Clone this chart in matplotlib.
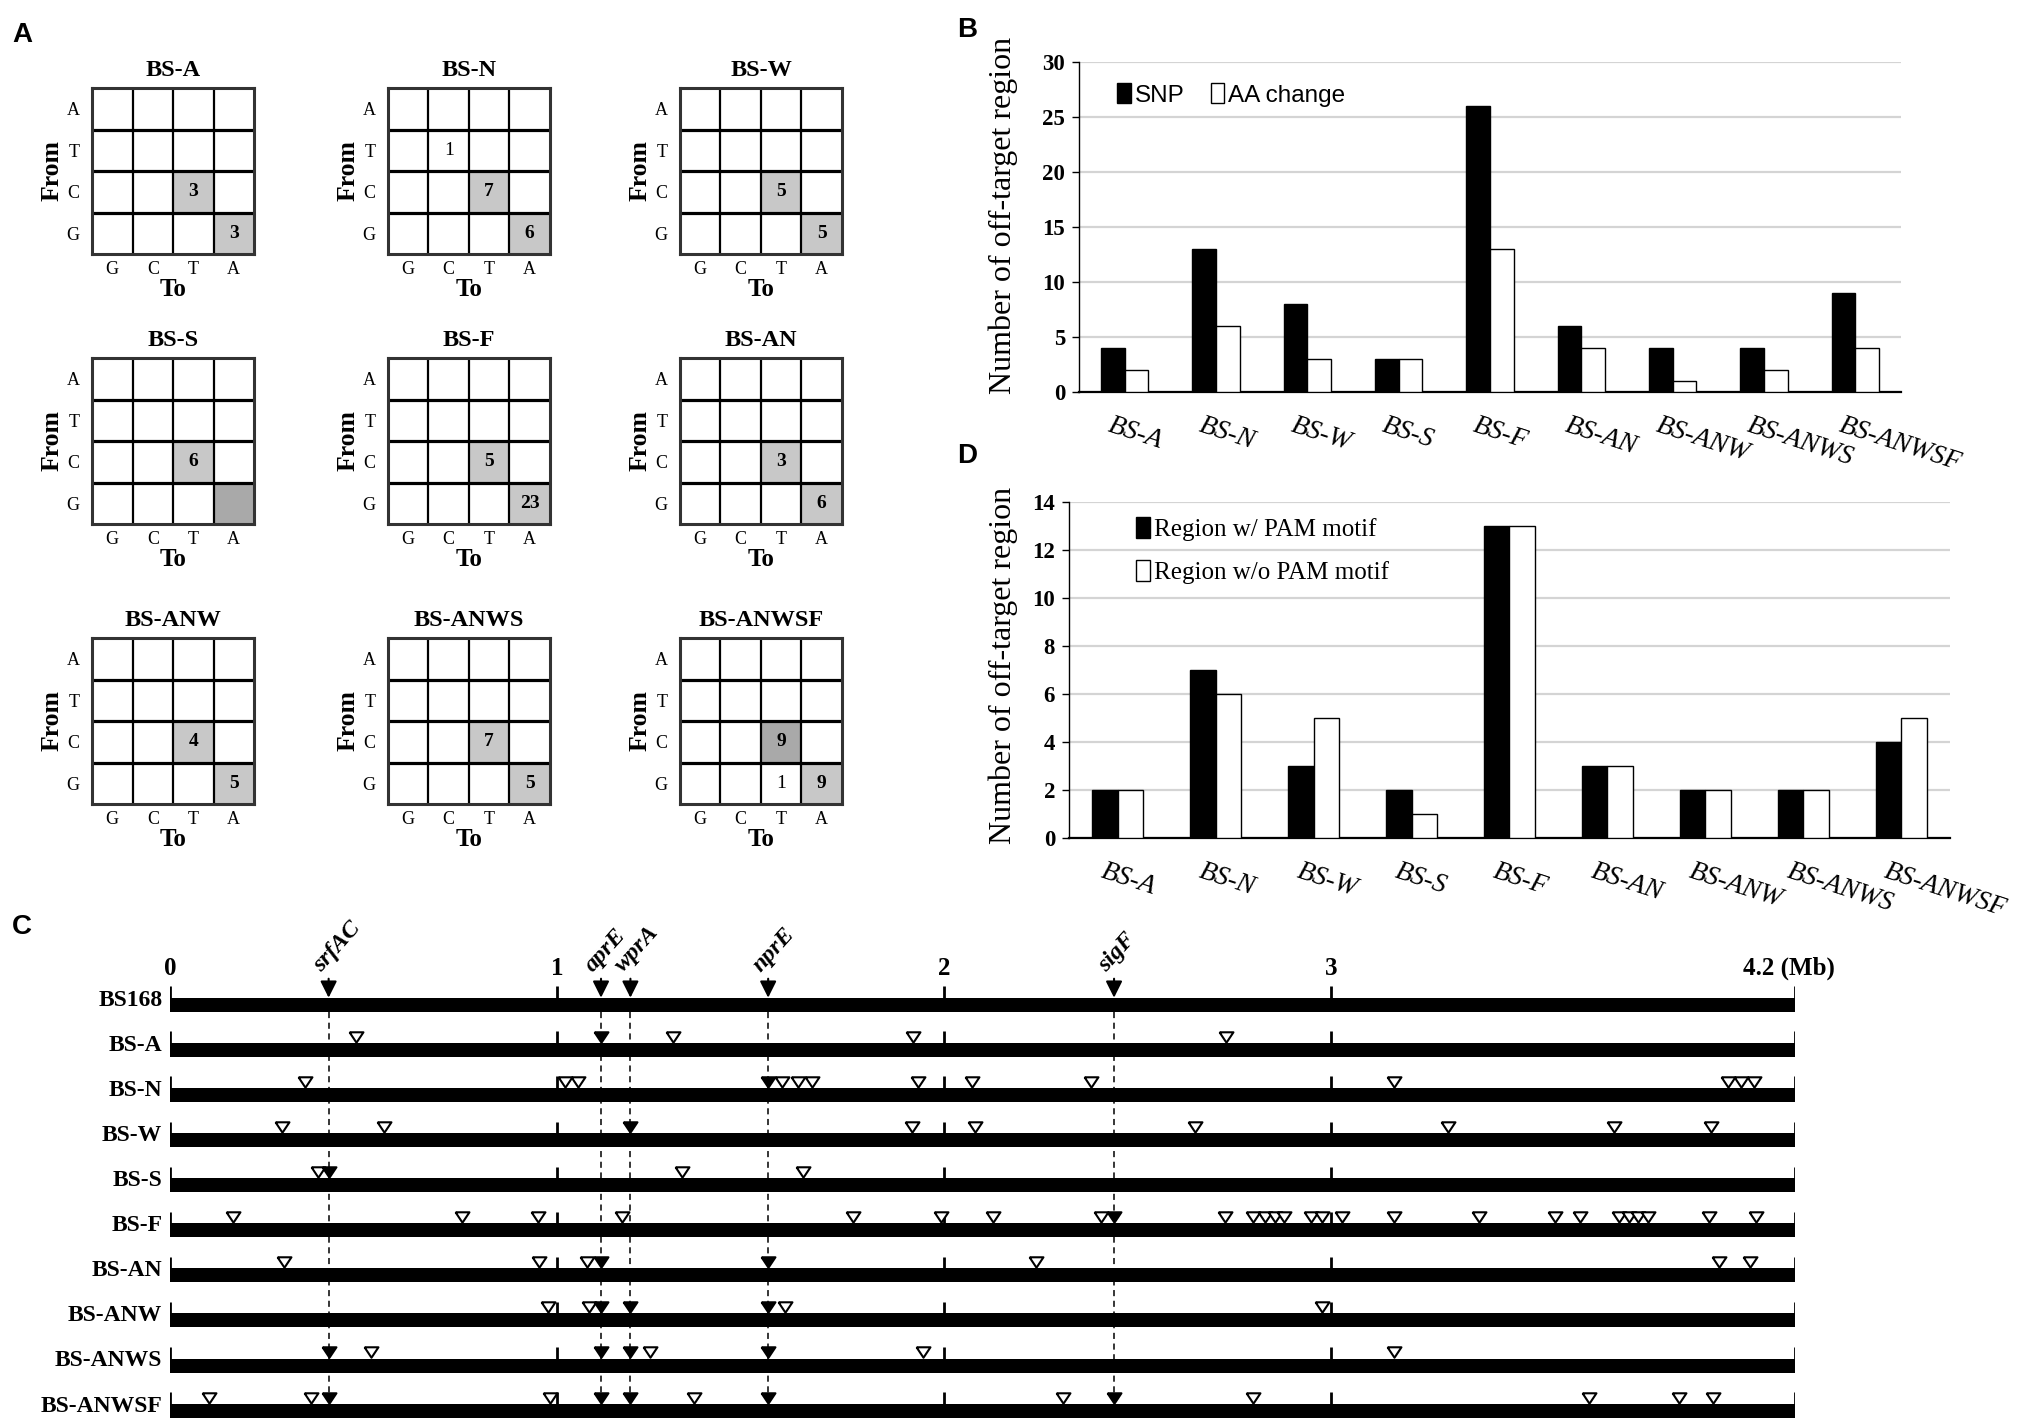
import matplotlib
matplotlib.use('Agg')
import matplotlib.pyplot as plt
from matplotlib.colors import ListedColormap
from matplotlib.patches import Patch
from matplotlib.transforms import ScaledTranslation
import numpy as np

plt.rcParams['font.family'] = ['Liberation Serif', 'DejaVu Serif']

W, H = 2033, 1421  # output size in px (dpi 100)

# ---------------- data ----------------
strains = ['BS-A', 'BS-N', 'BS-W', 'BS-S', 'BS-F', 'BS-AN', 'BS-ANW', 'BS-ANWS', 'BS-ANWSF']
from_bases = ['A', 'T', 'C', 'G']
to_bases = ['G', 'C', 'T', 'A']

# panel A: substitution counts, rows = From (A,T,C,G), cols = To (G,C,T,A); 0 = no number
sub_counts = [
    [[0, 0, 0, 0], [0, 0, 0, 0], [0, 0, 3, 0], [0, 0, 0, 3]],    # BS-A
    [[0, 0, 0, 0], [0, 1, 0, 0], [0, 0, 7, 0], [0, 0, 0, 6]],    # BS-N
    [[0, 0, 0, 0], [0, 0, 0, 0], [0, 0, 5, 0], [0, 0, 0, 5]],    # BS-W
    [[0, 0, 0, 0], [0, 0, 0, 0], [0, 0, 6, 0], [0, 0, 0, 0]],    # BS-S
    [[0, 0, 0, 0], [0, 0, 0, 0], [0, 0, 5, 0], [0, 0, 0, 23]],   # BS-F
    [[0, 0, 0, 0], [0, 0, 0, 0], [0, 0, 3, 0], [0, 0, 0, 6]],    # BS-AN
    [[0, 0, 0, 0], [0, 0, 0, 0], [0, 0, 4, 0], [0, 0, 0, 5]],    # BS-ANW
    [[0, 0, 0, 0], [0, 0, 0, 0], [0, 0, 7, 0], [0, 0, 0, 5]],    # BS-ANWS
    [[0, 0, 0, 0], [0, 0, 0, 0], [0, 0, 9, 0], [0, 0, 1, 9]],    # BS-ANWSF
]
# cell shading: 0 white, 1 light grey, 2 darker grey
sub_shade = [
    [[0, 0, 0, 0], [0, 0, 0, 0], [0, 0, 1, 0], [0, 0, 0, 1]],
    [[0, 0, 0, 0], [0, 0, 0, 0], [0, 0, 1, 0], [0, 0, 0, 1]],
    [[0, 0, 0, 0], [0, 0, 0, 0], [0, 0, 1, 0], [0, 0, 0, 1]],
    [[0, 0, 0, 0], [0, 0, 0, 0], [0, 0, 1, 0], [0, 0, 0, 2]],
    [[0, 0, 0, 0], [0, 0, 0, 0], [0, 0, 1, 0], [0, 0, 0, 1]],
    [[0, 0, 0, 0], [0, 0, 0, 0], [0, 0, 1, 0], [0, 0, 0, 1]],
    [[0, 0, 0, 0], [0, 0, 0, 0], [0, 0, 1, 0], [0, 0, 0, 1]],
    [[0, 0, 0, 0], [0, 0, 0, 0], [0, 0, 1, 0], [0, 0, 0, 1]],
    [[0, 0, 0, 0], [0, 0, 0, 0], [0, 0, 2, 0], [0, 0, 0, 1]],
]

# panel B
snp_count = [4, 13, 8, 3, 26, 6, 4, 4, 9]
aa_change = [2, 6, 3, 3, 13, 4, 1, 2, 4]

# panel D
with_pam = [2, 7, 3, 2, 13, 3, 2, 2, 4]
without_pam = [2, 6, 5, 1, 13, 3, 2, 2, 5]

# panel C: genome map (Mb)
genome_len = 4.2
scale_ticks = [0, 1, 2, 3, 4.2]
scale_labels = ['0', '1', '2', '3', '4.2 (Mb)']
genes = ['srfAC', 'aprE', 'wprA', 'nprE', 'sigF']
gene_pos = [0.41, 1.114, 1.19, 1.546, 2.44]
deleted_genes = [
    ['aprE'],
    ['nprE'],
    ['wprA'],
    ['srfAC'],
    ['sigF'],
    ['aprE', 'nprE'],
    ['aprE', 'wprA', 'nprE'],
    ['srfAC', 'aprE', 'wprA', 'nprE'],
    ['srfAC', 'aprE', 'wprA', 'nprE', 'sigF'],
]
snp_pos = [
    [0.48, 1.30, 1.92, 2.73],
    [0.35, 1.022, 1.055, 1.583, 1.622, 1.66, 1.934, 2.074, 2.38, 3.163, 4.026, 4.06, 4.093],
    [0.29, 0.553, 1.918, 2.08, 2.649, 3.303, 3.731, 3.983],
    [0.383, 1.323, 1.636],
    [0.162, 0.754, 0.95, 1.167, 1.766, 1.993, 2.128, 2.406, 2.728, 2.80, 2.83, 2.855,
     2.88, 2.95, 2.977, 3.028, 3.163, 3.382, 3.58, 3.645, 3.746, 3.77, 3.795, 3.82, 3.978, 4.098],
    [0.294, 0.953, 1.079, 2.237, 4.003, 4.083],
    [0.977, 1.083, 1.589, 2.977],
    [0.519, 1.24, 1.947, 3.163],
    [0.10, 0.364, 0.982, 1.354, 2.309, 2.80, 3.667, 3.899, 3.988],
]

fig = plt.figure(figsize=(W / 100, H / 100), dpi=100)
fig.patch.set_facecolor('white')

# panel letters
for letter, (px, py) in zip('ABCD', [(22, 35), (967, 30), (22, 927), (967, 456)]):
    fig.text(px / W, 1 - py / H, letter, fontsize=20, fontweight='bold',
             family=['Liberation Sans', 'DejaVu Sans'], ha='center', va='center')

# ---------------- panel A ----------------
a_left = [92, 388, 680]
a_top = [88, 358, 638]
a_w, a_h = 162, 166
cmap_a = ListedColormap(['white', '#c8c8c8', '#a9a9a9'])

for k, name in enumerate(strains):
    r, c = divmod(k, 3)
    ax = fig.add_axes([a_left[c] / W, 1 - (a_top[r] + a_h) / H, a_w / W, a_h / H])
    ax.imshow(np.array(sub_shade[k]), cmap=cmap_a, vmin=0, vmax=2, aspect='auto',
              interpolation='nearest', extent=(-0.5, 3.5, 3.5, -0.5))
    for v in [0.5, 1.5, 2.5]:
        ax.axhline(v, color='black', lw=2.3)
        ax.axvline(v, color='black', lw=1.6)
    for sp in ax.spines.values():
        sp.set_linewidth(2.2)
        sp.set_color('#333333')
    counts = sub_counts[k]
    for i in range(4):
        for j in range(4):
            if counts[i][j] > 0:
                ax.text(j, i, str(counts[i][j]), ha='center', va='center', fontsize=14,
                        fontweight='bold' if sub_shade[k][i][j] else 'normal')
    ax.set_xticks(range(4), to_bases)
    ax.set_yticks(range(4), from_bases)
    ax.tick_params(length=0, labelsize=13, pad=5)
    ax.tick_params(axis='y', pad=9)
    ax.set_xlabel('To', fontsize=18, fontweight='bold', labelpad=0)
    ax.set_ylabel('From', fontsize=18.5, fontweight='bold', labelpad=2)
    ax.set_title(name, fontsize=17.5, fontweight='bold', pad=9)

# ---------------- panels B and D ----------------
x = np.arange(len(strains))
bw = 0.26
ylabel_right_px = 1018   # right edge of the rotated y label


def bar_panel(left_px, top_px, w_px, h_px, s1, s2, ymax, step, labels, legend_kw, label_y):
    ax = fig.add_axes([left_px / W, 1 - (top_px + h_px) / H, w_px / W, h_px / H])
    ax.bar(x - bw / 2, s1, bw, color='black', edgecolor='black', lw=1, zorder=3, label=labels[0])
    ax.bar(x + bw / 2, s2, bw, color='white', edgecolor='black', lw=1, zorder=3, label=labels[1])
    ax.set_xlim(-0.5, len(strains) - 0.5)
    ax.set_ylim(0, ymax)
    ticks = np.arange(0, ymax + 1, step)
    ax.set_yticks(ticks, [str(t) for t in ticks], fontsize=16.5, fontweight='bold')
    ax.tick_params(axis='y', length=5, width=1, pad=5)
    ax.set_xticks(x, strains, rotation=-18, ha='left', rotation_mode='anchor',
                  fontsize=19.5, fontstyle='italic')
    ax.tick_params(axis='x', length=0, pad=15)
    shift = ScaledTranslation(-0.12, 0, fig.dpi_scale_trans)
    for lab in ax.get_xticklabels():
        lab.set_transform(lab.get_transform() + shift)
    ax.yaxis.grid(True, color='#d4d4d4', lw=1.6)
    ax.set_axisbelow(True)
    for sp in ['top', 'right']:
        ax.spines[sp].set_visible(False)
    ax.spines['bottom'].set_linewidth(1.6)
    ax.spines['left'].set_linewidth(1.0)
    ax.set_ylabel('Number of off-target region', fontsize=23)
    ax.yaxis.set_label_coords((ylabel_right_px - left_px) / w_px, label_y)
    handles = [Patch(facecolor='black', edgecolor='black', lw=1),
               Patch(facecolor='white', edgecolor='black', lw=1)]
    ax.legend(handles, labels, frameon=False, handlelength=0.55, handleheight=0.9,
              handletextpad=0.15, borderaxespad=0, **legend_kw)
    return ax


bar_panel(1079, 62, 822, 330, snp_count, aa_change, 30, 5,
          ['SNP', 'AA change'],
          dict(loc='center left', bbox_to_anchor=(0.035, 0.9), ncol=2, columnspacing=1.1,
               prop={'family': ['Liberation Sans', 'DejaVu Sans'], 'size': 17.5}),
          0.535)

bar_panel(1069, 502, 881, 336, with_pam, without_pam, 14, 2,
          ['Region w/ PAM motif', 'Region w/o PAM motif'],
          dict(loc='upper left', bbox_to_anchor=(0.065, 0.985), labelspacing=0.75,
               prop={'size': 18}),
          0.515)

# ---------------- panel C ----------------
row_names = ['BS168'] + strains
rows = np.arange(len(row_names))
row_gap = 45.1      # px between rows
y0_px = 1004.7      # px of first bar centre
c_top_px = 925
ax_c = fig.add_axes([170 / W, 0, 1625 / W, (H - c_top_px) / H])
ax_c.set_xlim(0, genome_len)
ax_c.set_ylim((H - y0_px) / row_gap, (c_top_px - y0_px) / row_gap)
ax_c.axis('off')

bar_h = 14 / row_gap
tick_h = 11.5 / row_gap
tri_ms = 10
tri = [(-1, 0.75), (1, 0.75), (0, -0.75), (-1, 0.75)]
tri_off = bar_h / 2 + (0.75 * tri_ms / 2 * 100 / 72 + 0.8) / row_gap

ax_c.barh(rows, genome_len, left=0, height=bar_h, color='black', zorder=2)
for r in rows:
    ax_c.vlines(scale_ticks, r - bar_h / 2 - tick_h, r - bar_h / 2, color='black', lw=2, zorder=2)

ax_c.vlines(gene_pos, bar_h / 2, rows[-1] - tri_off, colors='black', lw=1.1,
            linestyles=(0, (4, 3)), zorder=1)

for t, lab in zip(scale_ticks, scale_labels):
    ax_c.text(t - (0.015 if lab.endswith('(Mb)') else 0), -0.8, lab, ha='center', va='center',
              fontsize=18, fontweight='bold')

for g, p in zip(genes, gene_pos):
    ax_c.annotate('', xy=(p, -bar_h / 2), xytext=(p, -bar_h / 2 - 19 / row_gap),
                  arrowprops=dict(arrowstyle='-|>,head_length=0.5,head_width=0.25',
                                  mutation_scale=20, lw=1.5, color='black',
                                  shrinkA=0, shrinkB=0),
                  annotation_clip=False)
    ax_c.text(p - 0.01, -bar_h / 2 - 22 / row_gap, g, rotation=48, rotation_mode='anchor',
              ha='left', va='bottom', fontsize=17.5, fontstyle='italic', fontweight='bold')

for r, name in zip(rows, row_names):
    ax_c.text(-0.02, r - 0.1, name, ha='right', va='center', fontsize=17, fontweight='bold')

for k in range(len(strains)):
    r = k + 1
    ax_c.plot(snp_pos[k], [r - tri_off] * len(snp_pos[k]), ls='none', marker=tri, ms=tri_ms,
              mfc='white', mec='black', mew=1.5, zorder=3, clip_on=False)
    dpos = [gene_pos[genes.index(g)] for g in deleted_genes[k]]
    ax_c.plot(dpos, [r - tri_off] * len(dpos), ls='none', marker=tri, ms=tri_ms,
              mfc='black', mec='black', mew=1.5, zorder=3, clip_on=False)

fig.savefig('out.png', dpi=100, facecolor='white')
plt.close(fig)
